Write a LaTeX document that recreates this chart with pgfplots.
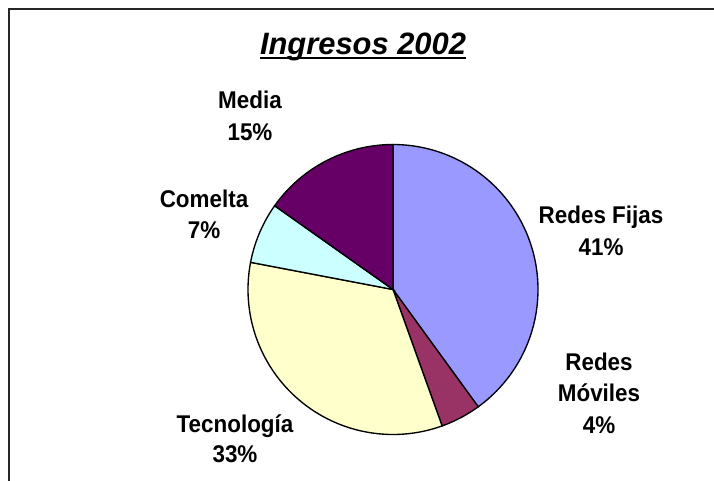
\documentclass[border=0pt]{standalone}
\usepackage{pgfplots}
\pgfplotsset{compat=1.18}
\usepackage{fontspec}
\setmainfont{Liberation Sans}
\usepackage{graphicx}
\definecolor{cFijas}{HTML}{9999FF}
\definecolor{cMoviles}{HTML}{993366}
\definecolor{cTec}{HTML}{FFFFCC}
\definecolor{cComelta}{HTML}{CCFFFF}
\definecolor{cMedia}{HTML}{660066}
\newcommand\ul[1]{\setbox0\hbox{#1}\rlap{\rule[-4.5bp]{\wd0}{2.4bp}}\box0}
\newcommand\tl[1]{\scalebox{1}[1.08]{#1}}
\begin{document}
\begin{tikzpicture}
\useasboundingbox (0,0) rectangle (714bp,481bp);
% shares (percent), clockwise from 12 o'clock
\def\vFijas{40.0}
\def\vMoviles{4.5}
\def\vTec{33.5}
\def\vComelta{6.8}
\def\vMedia{15.2}
\pgfmathsetmacro\aA{90}
\pgfmathsetmacro\aB{\aA-3.6*\vFijas}
\pgfmathsetmacro\aC{\aB-3.6*\vMoviles}
\pgfmathsetmacro\aD{\aC-3.6*\vTec}
\pgfmathsetmacro\aE{\aD-3.6*\vComelta}
\pgfmathsetmacro\aF{\aE-3.6*\vMedia}
\def\cx{393}\def\cy{289.5}\def\rr{145}
\begin{axis}[at={(0,0)},anchor=south west,scale only axis,
  width=714bp,height=481bp,xmin=0,xmax=714,ymin=0,ymax=481,
  y dir=reverse,hide axis,clip=false]
\addplot[draw=black!85,line width=2.3bp] coordinates {(8.7,490) (8.7,8.7) (720,8.7)};
\addplot[fill=cFijas,draw=black,line width=1.35bp,domain=\aB:\aA,samples=90,variable=\t]
  ({\cx+\rr*cos(\t)},{\cy-\rr*sin(\t)}) -- (axis cs:\cx,\cy) -- cycle;
\addplot[fill=cMoviles,draw=black,line width=1.35bp,domain=\aC:\aB,samples=20,variable=\t]
  ({\cx+\rr*cos(\t)},{\cy-\rr*sin(\t)}) -- (axis cs:\cx,\cy) -- cycle;
\addplot[fill=cTec,draw=black,line width=1.35bp,domain=\aD:\aC,samples=80,variable=\t]
  ({\cx+\rr*cos(\t)},{\cy-\rr*sin(\t)}) -- (axis cs:\cx,\cy) -- cycle;
\addplot[fill=cComelta,draw=black,line width=1.35bp,domain=\aE:\aD,samples=20,variable=\t]
  ({\cx+\rr*cos(\t)},{\cy-\rr*sin(\t)}) -- (axis cs:\cx,\cy) -- cycle;
\addplot[fill=cMedia,draw=black,line width=1.35bp,domain=\aF:\aE,samples=40,variable=\t]
  ({\cx+\rr*cos(\t)},{\cy-\rr*sin(\t)}) -- (axis cs:\cx,\cy) -- cycle;
\tikzset{lbl/.style={anchor=base,inner sep=0pt,font=\fontsize{22.5}{27}\selectfont\bfseries}}
\node[anchor=base,inner sep=0pt,font=\fontsize{31}{36}\selectfont\bfseries\itshape] at (axis cs:363,55) {\ul{Ingresos 2002}};
\node[lbl] at (axis cs:250,109) {\tl{Media}};
\node[lbl] at (axis cs:250,141) {\tl{15\%}};
\node[lbl] at (axis cs:204,207) {\tl{Comelta}};
\node[lbl] at (axis cs:204,238) {\tl{7\%}};
\node[lbl] at (axis cs:601,223) {\tl{Redes Fijas}};
\node[lbl] at (axis cs:601,255) {\tl{41\%}};
\node[lbl] at (axis cs:599,370) {\tl{Redes}};
\node[lbl] at (axis cs:599,401) {\tl{Móviles}};
\node[lbl] at (axis cs:599,433) {\tl{4\%}};
\node[lbl] at (axis cs:235,432) {\tl{Tecnología}};
\node[lbl] at (axis cs:235,462) {\tl{33\%}};
\end{axis}
\end{tikzpicture}
\end{document}
